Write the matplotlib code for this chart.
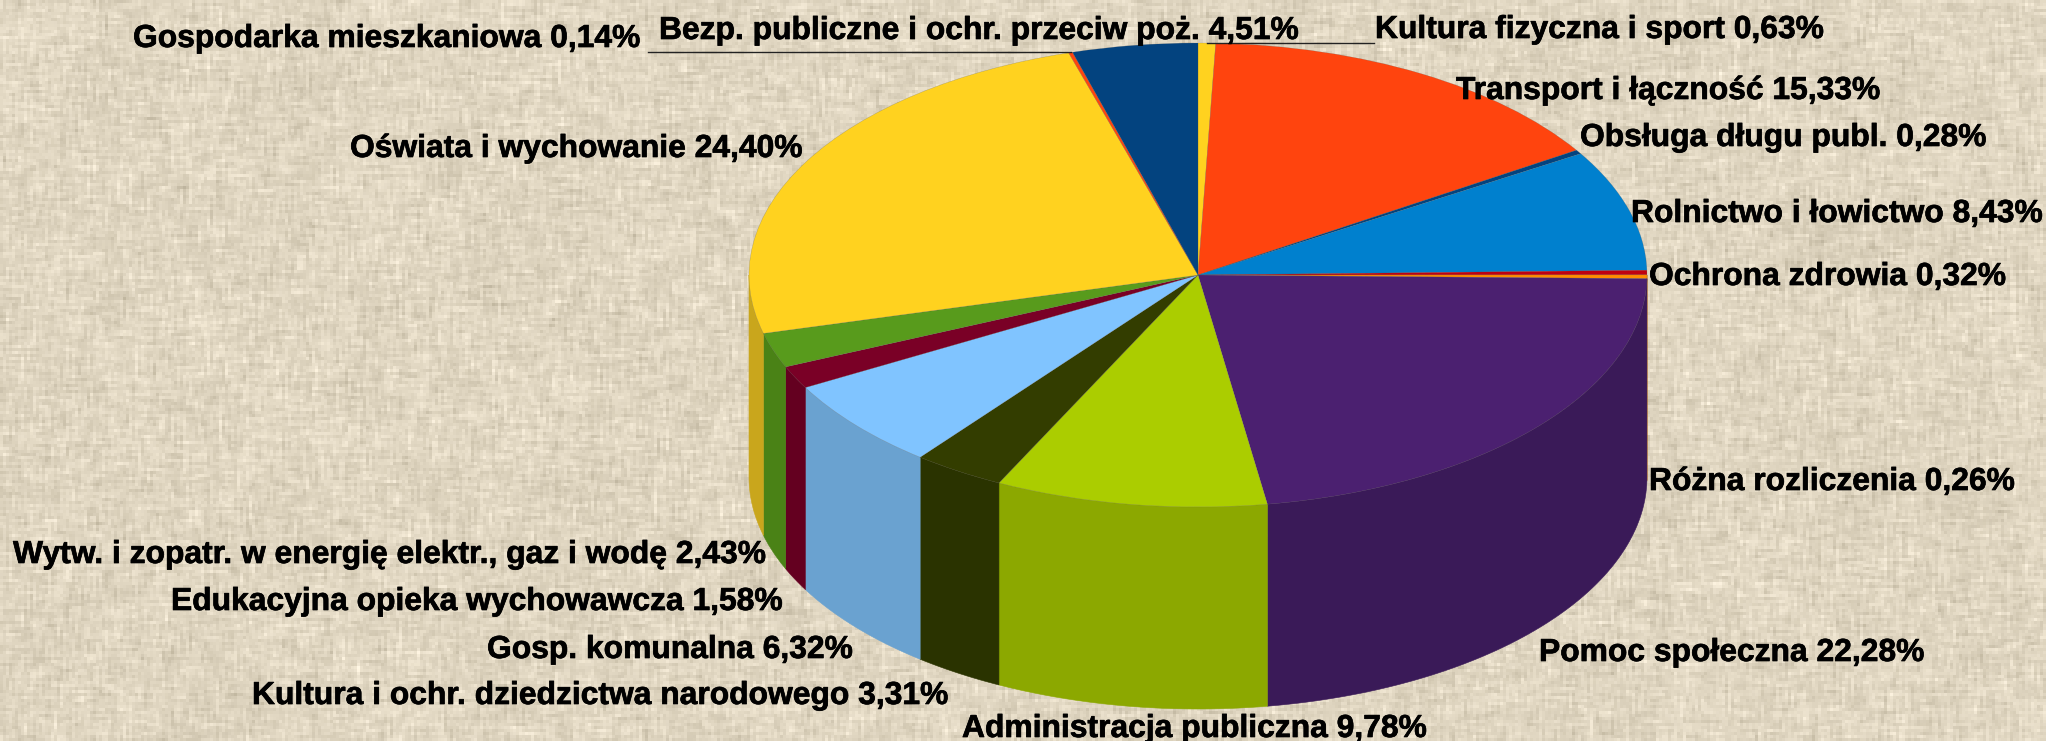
import numpy as np
import matplotlib
matplotlib.use("Agg")
import matplotlib.pyplot as plt
from matplotlib.transforms import Affine2D
import matplotlib.patheffects as pe

categories = ["Kultura fizyczna i sport", "Transport i łączność", "Obsługa długu publ.",
              "Rolnictwo i łowictwo", "Ochrona zdrowia", "Różna rozliczenia", "Pomoc społeczna",
              "Administracja publiczna", "Kultura i ochr. dziedzictwa narodowego", "Gosp. komunalna",
              "Edukacyjna opieka wychowawcza", "Wytw. i zopatr. w energię elektr., gaz i wodę",
              "Oświata i wychowanie", "Gospodarka mieszkaniowa", "Bezp. publiczne i ochr. przeciw poż."]
values = [0.63, 15.33, 0.28, 8.43, 0.32, 0.26, 22.28, 9.78, 3.31, 6.32, 1.58, 2.43, 24.40, 0.14, 4.51]
top_colors = ["#FFD21F", "#FF440E", "#03437F", "#0080CE", "#C00010", "#FF8C00", "#4B2070",
              "#ABCD00", "#333D00", "#80C4FF", "#7A0026", "#589B1C", "#FFD21F", "#FF440E", "#03437F"]
side_colors = ["#C9A61C", "#C93A0E", "#033566", "#0068A8", "#9A000C", "#CC7000", "#3A1A58",
               "#8CA800", "#2A3300", "#6AA2D0", "#640020", "#4A8216", "#C9A61C", "#C93A0E", "#033566"]
# label position in pixels: left edge, vertical centre
label_pos = [(1375, 30), (1456, 91), (1580, 138), (1631, 214), (1649, 277), (1649, 482), (1539, 653),
             (962, 729), (252, 696), (487, 650), (171, 602), (13, 555), (350, 149), (133, 39), (659, 31)]

W, H = 2046, 741
CX, CY, RX, RY, DEPTH = 1198, 275, 449, 232, 202

plt.rcParams['font.family'] = ['Liberation Sans', 'DejaVu Sans']
fig = plt.figure(figsize=(W / 100, H / 100), dpi=100)

# woven burlap backdrop
rng = np.random.default_rng(3)
def smooth(a, k, axis):
    return np.apply_along_axis(lambda v: np.convolve(v, np.ones(k) / k, mode='same'), axis, a)
cells = (H // 3 + 1, W // 3 + 1)
warp = smooth(rng.normal(0, 1, cells), 5, 0)
weft = smooth(rng.normal(0, 1, cells), 5, 1)
blotch = smooth(smooth(rng.normal(0, 1, cells), 21, 0), 21, 1)
tex = (warp + weft) * 12 + blotch * 30
tex = np.kron(tex, np.ones((3, 3)))[:H, :W]
base = np.array([224, 214, 193], float)
img = np.clip(base[None, None, :] + tex[:, :, None] * np.array([1, 1, 1.05]), 0, 255).astype(np.uint8)
bg = fig.add_axes([0, 0, 1, 1])
bg.imshow(img, aspect='auto', interpolation='bilinear')
bg.axis('off')

ax = fig.add_axes([0, 0, 1, 1], facecolor='none')
vals = np.array(values)
edges = np.concatenate([[0], np.cumsum(vals)]) / vals.sum() * 2 * np.pi

# side wall: only the part facing the viewer
depth_units = DEPTH / RY
for a0, a1, c in zip(edges[:-1], edges[1:], side_colors):
    lo, hi = max(a0, np.pi / 2), min(a1, 3 * np.pi / 2)
    if hi <= lo:
        continue
    t = np.linspace(lo, hi, 80)
    xs = np.sin(t)
    ys = np.cos(t)
    ax.fill(np.r_[xs, xs[::-1]], np.r_[ys, ys[::-1] - depth_units], color=c, lw=0.4, zorder=1)

# top face: ordinary pie, squashed by the axis limits
ax.pie(values, colors=top_colors, startangle=90, counterclock=False, radius=1,
       wedgeprops=dict(linewidth=0.3, edgecolor='#55555566'))
ax.set_aspect('auto')
ax.set_xlim(-CX / RX, (W - CX) / RX)
ax.set_ylim(-(H - CY) / RY, CY / RY)
ax.axis('off')

px = Affine2D().scale(1, -1).translate(0, H)
ax.plot([648, 1071], [52, 52], color='#222222', lw=1, transform=px, zorder=5)
ax.plot([1207, 1374], [43, 43], color='#222222', lw=1, transform=px, zorder=5)

for name, v, (x, y) in zip(categories, values, label_pos):
    txt = name + " " + f"{v:.2f}".replace('.', ',') + "%"
    ax.text(x, y, txt, transform=px, fontsize=22.9, fontweight='bold', color='black',
            ha='left', va='center', zorder=6,
            path_effects=[pe.withStroke(linewidth=0.5, foreground='black')])

fig.savefig("out.png", dpi=100)
